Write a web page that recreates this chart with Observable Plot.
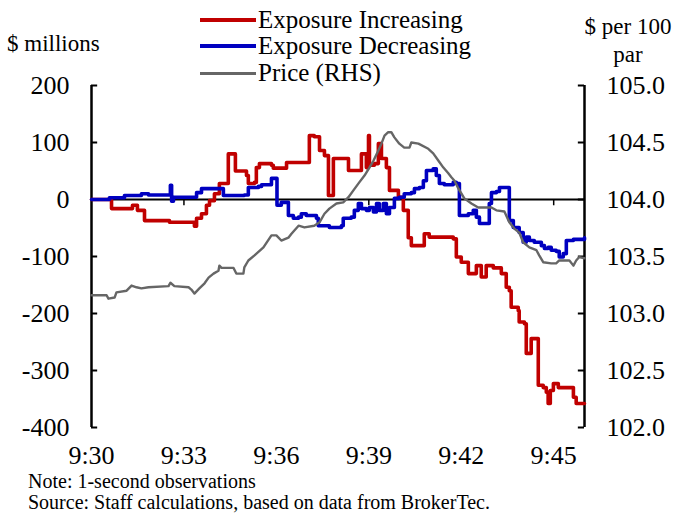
<!DOCTYPE html>
<html>
<head>
<meta charset="utf-8">
<script src="https://cdn.jsdelivr.net/npm/d3@7"></script>
<script src="https://cdn.jsdelivr.net/npm/@observablehq/plot@0.6"></script>
<style>
  body { margin: 0; background: #fff; }
  #wrap { position: relative; width: 673px; height: 514px; background: #fff;
          font-family: "Liberation Serif", "Times New Roman", serif; color: #000; overflow: hidden; }
  #wrap .abs { position: absolute; white-space: nowrap; }
  .leg { position: absolute; left: 200px; font-size: 25px; line-height: 22px; white-space: nowrap; }
  .sw { display: inline-block; width: 56px; height: 4px; vertical-align: middle; margin-right: 2px; position: relative; top: -2px; }
</style>
</head>
<body>
<div id="wrap">
  <div class="abs" style="left:7px;top:31px;font-size:23px;">$ millions</div>
  <div class="abs" style="left:578px;top:13px;width:100px;text-align:center;font-size:23px;line-height:28px;">$ per 100<br>par</div>
  <div class="leg" style="top:9px;"><span class="sw" style="background:#C00000"></span>Exposure Increasing</div>
  <div class="leg" style="top:35px;"><span class="sw" style="background:#0000C0"></span>Exposure Decreasing</div>
  <div class="leg" style="top:62px;"><span class="sw" style="background:#666666;height:3px"></span>Price (RHS)</div>
  <div class="abs" style="left:28px;top:471px;font-size:20px;line-height:20px;">Note: 1-second observations</div>
  <div class="abs" style="left:28px;top:492px;font-size:20px;line-height:20px;">Source: Staff calculations, based on data from BrokerTec.</div>
</div>
<script>
// Time in minutes after 9:30
const xTicks = [0, 3, 6, 9, 12, 15];
const zeroLineTicks = [3, 9, 15];
const leftTicks = [-400, -300, -200, -100, 0, 100, 200];

// Exposure Increasing ($ millions)
const incT = [0,0.58,0.65,1.30,1.33,1.46,1.49,1.69,1.72,2.50,2.53,3.24,3.34,3.41,3.57,3.73,3.83,3.99,4.15,4.41,4.44,4.61,4.67,5.03,5.09,5.29,5.35,5.45,5.84,5.90,6.26,6.33,6.91,7.07,7.23,7.40,7.56,7.69,7.79,7.85,8.11,8.34,8.69,8.76,8.92,8.99,9.02,9.18,9.31,9.41,9.57,9.67,9.83,9.96,10.12,10.28,10.38,10.77,10.80,10.96,11.74,11.84,12.00,12.10,12.23,12.39,12.49,12.65,12.81,13.04,13.30,13.46,13.56,13.62,13.85,13.88,14.05,14.11,14.21,14.27,14.44,14.50,14.66,14.76,14.82,14.89,14.99,15.15,15.51,15.64,15.73,16.0];
const incV = [0,0,-16,-16,-10,-10,-19,-19,-37,-37,-40,-40,-47,-33,-25,-10,-2,10,28,28,80,80,50,42,28,30,56,63,60,55,55,65,65,112,110,86,77,7,7,72,72,51,51,80,56,112,60,63,98,72,56,16,16,4,-19,-67,-81,-81,-60,-66,-69,-101,-110,-110,-130,-130,-116,-136,-116,-120,-130,-154,-160,-189,-195,-215,-218,-270,-270,-244,-244,-326,-330,-338,-358,-335,-323,-330,-330,-347,-358,-358];

// Exposure Decreasing ($ millions)
const decT = [0,0.52,0.58,1.07,1.62,1.85,2.50,2.56,2.60,2.66,3.24,3.41,3.57,4.12,4.28,4.96,5.09,5.42,5.52,5.84,6.00,6.02,6.16,6.33,6.39,6.55,6.72,6.81,6.97,7.30,7.36,7.72,8.11,8.17,8.43,8.53,8.66,8.76,8.92,9.02,9.15,9.25,9.34,9.47,9.57,9.67,9.83,9.99,10.15,10.38,10.48,10.64,10.77,10.87,11.09,11.19,11.29,11.45,11.74,11.84,11.94,12.00,12.23,12.39,12.49,12.59,12.81,12.91,12.98,13.14,13.24,13.53,13.56,13.69,13.88,14.01,14.11,14.21,14.37,14.60,14.70,14.82,14.92,15.08,15.18,15.31,15.41,15.64,16.0];
const decV = [0,0,3,7,10,8,8,25,-3,4,4,12,19,19,7,8,21,23,26,37,37,-10,-5,-5,-28,-33,-31,-25,-28,-33,-46,-49,-46,-33,-31,-19,-7,-16,-19,-14,-22,-7,-19,-7,-25,-14,2,4,10,12,19,21,33,51,54,42,28,26,30,28,-28,-28,-25,-19,-31,-42,-42,-7,12,14,21,21,-37,-49,-58,-75,-66,-72,-75,-81,-86,-84,-89,-91,-101,-95,-72,-70,-67];

// Price (RHS, $ per 100 par)
const priceT = [0,0.49,0.55,0.75,0.81,1.14,1.30,1.46,1.62,1.85,2.50,2.56,2.69,3.15,3.24,3.34,3.50,3.67,3.80,3.96,4.12,4.15,4.22,4.61,4.70,4.93,4.96,5.09,5.29,5.58,5.84,6.00,6.16,6.39,6.49,6.72,6.91,7.23,7.40,7.56,7.72,7.95,8.17,8.34,8.50,8.69,8.86,9.02,9.15,9.31,9.41,9.51,9.63,9.73,9.83,9.99,10.15,10.32,10.38,10.61,10.93,11.09,11.26,11.42,11.58,11.68,11.78,11.91,12.10,12.33,12.55,12.98,13.14,13.40,13.56,13.72,13.88,14.01,14.21,14.44,14.53,14.66,14.92,15.08,15.18,15.51,15.64,15.73,15.83,16.0];
const priceV = [103.16,103.16,103.13,103.14,103.185,103.20,103.245,103.23,103.22,103.23,103.24,103.27,103.24,103.23,103.21,103.175,103.22,103.265,103.315,103.35,103.375,103.42,103.40,103.40,103.35,103.35,103.405,103.465,103.51,103.58,103.685,103.685,103.64,103.665,103.70,103.77,103.755,103.77,103.80,103.875,103.92,103.965,103.975,104.02,104.08,104.15,104.21,104.28,104.34,104.43,104.49,104.56,104.59,104.59,104.545,104.49,104.455,104.455,104.50,104.49,104.445,104.405,104.34,104.28,104.23,104.195,104.165,104.095,104.01,103.965,103.93,103.93,103.905,103.895,103.80,103.745,103.71,103.625,103.58,103.555,103.51,103.45,103.44,103.44,103.465,103.465,103.42,103.465,103.495,103.485];

// right axis: price = 104 + millions/200
const toLeft = p => (p - 104) * 200;
const toPrice = v => 104 + v / 200;

const inc = incT.map((t, i) => ({t, v: incV[i]}));
const dec = decT.map((t, i) => ({t, v: decV[i]}));
const price = priceT.map((t, i) => ({t, v: toLeft(priceV[i])}));

const font = '"Liberation Serif", "Times New Roman", serif';

const chart = Plot.plot({
  width: 673,
  height: 514,
  marginLeft: 91,
  marginRight: 89,
  marginTop: 85,
  marginBottom: 87,
  style: {fontFamily: font, fontSize: "26px", color: "#000", background: "transparent", overflow: "visible"},
  x: {domain: [0, 16]},
  y: {domain: [-400, 200]},
  marks: [
    Plot.axisX({ticks: xTicks, tickFormat: m => `9:${30 + m}`, tickSize: 0, tickPadding: 18, fontSize: 26, fontFamily: font, label: null}),
    Plot.axisY({ticks: leftTicks, anchor: "left", tickFormat: d => String(d), tickSize: 0, tickPadding: 22, fontSize: 26, fontFamily: font, label: null}),
    Plot.axisY({ticks: leftTicks, anchor: "right", tickFormat: v => toPrice(v).toFixed(1), tickSize: 0, tickPadding: 22, fontSize: 26, fontFamily: font, label: null}),
    Plot.ruleY(leftTicks, {x1: 0, x2: 0.2, stroke: "#000", strokeWidth: 2}),
    Plot.ruleY(leftTicks, {x1: 15.8, x2: 16, stroke: "#000", strokeWidth: 2}),
    Plot.ruleX([0, 16], {stroke: "#000", strokeWidth: 2.5}),
    Plot.ruleY([0], {stroke: "#000", strokeWidth: 2}),
    Plot.ruleX(zeroLineTicks, {y1: 0, y2: -11, stroke: "#000", strokeWidth: 1.5}),
    Plot.line(inc, {x: "t", y: "v", stroke: "#C00000", strokeWidth: 3.6, curve: "step-after"}),
    Plot.line(dec, {x: "t", y: "v", stroke: "#0000C0", strokeWidth: 3.6, curve: "step-after"}),
    Plot.line(price, {x: "t", y: "v", stroke: "#666666", strokeWidth: 2.4})
  ]
});
chart.style.position = "absolute";
chart.style.left = "0px";
chart.style.top = "0px";
document.getElementById("wrap").prepend(chart);
</script>
</body>
</html>
